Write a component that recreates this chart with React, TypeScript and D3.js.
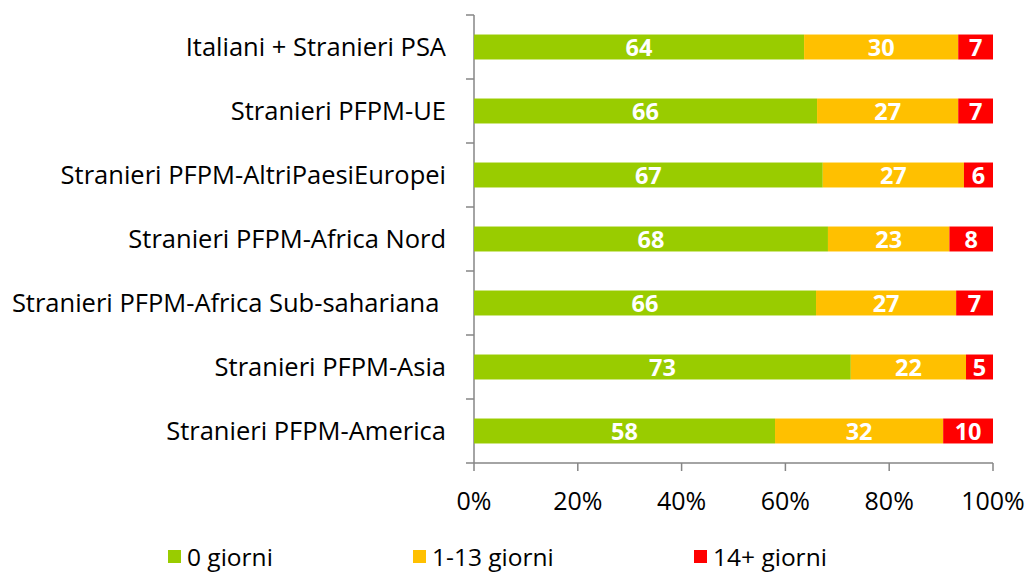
import React, { useEffect, useRef } from "react";
import * as d3 from "d3";

const categories = [
  "Italiani + Stranieri PSA",
  "Stranieri PFPM-UE",
  "Stranieri PFPM-AltriPaesiEuropei",
  "Stranieri PFPM-Africa Nord",
  "Stranieri PFPM-Africa Sub-sahariana ",
  "Stranieri PFPM-Asia",
  "Stranieri PFPM-America",
];
const seriesNames = ["0 giorni", "1-13 giorni", "14+ giorni"];
const seriesColors = ["#99cc00", "#ffc000", "#ff0000"];
const zeroDays = [63.6, 66.1, 67.2, 68.2, 65.9, 72.6, 58.0];
const oneToThirteen = [29.7, 27.2, 27.2, 23.4, 27.0, 22.2, 32.4];
const fourteenPlus = [6.7, 6.7, 5.6, 8.4, 7.1, 5.2, 9.6];
const tickValues = [0, 20, 40, 60, 80, 100];

const W = 1029;
const H = 574;
const FONT = "'Open Sans', Lato, sans-serif";

const App = () => {
  const ref = useRef<SVGSVGElement>(null);

  useEffect(() => {
    const svg = d3.select(ref.current);
    svg.selectAll("*").remove();

    const rows = categories.map((c, i) => ({
      cat: c,
      s0: zeroDays[i],
      s1: oneToThirteen[i],
      s2: fourteenPlus[i],
    }));
    const keys = ["s0", "s1", "s2"];
    const stacked = d3.stack<any>().keys(keys)(rows);

    const x = d3.scaleLinear().domain([0, 100]).range([474, 993]);
    const y = d3.scaleBand().domain(categories).range([15, 463]).paddingInner(0.61).paddingOuter(0.305);

    // axes lines
    const g = svg.append("g");
    g.append("line")
      .attr("x1", 474).attr("x2", 474)
      .attr("y1", 15).attr("y2", 463)
      .attr("stroke", "#868686").attr("stroke-width", 1.5);
    g.append("line")
      .attr("x1", 474).attr("x2", 993)
      .attr("y1", 463).attr("y2", 463)
      .attr("stroke", "#868686").attr("stroke-width", 1.5);

    const step = y.step();
    d3.range(categories.length + 1).forEach((i) => {
      const yy = 15 + i * step;
      g.append("line")
        .attr("x1", 466).attr("x2", 474)
        .attr("y1", yy).attr("y2", yy)
        .attr("stroke", "#868686").attr("stroke-width", 1.5);
    });
    tickValues.forEach((t) => {
      g.append("line")
        .attr("x1", x(t)).attr("x2", x(t))
        .attr("y1", 463).attr("y2", 471)
        .attr("stroke", "#868686").attr("stroke-width", 1.5);
      g.append("text")
        .attr("x", x(t)).attr("y", 510)
        .attr("text-anchor", "middle")
        .style("font-family", FONT).style("font-size", "25px")
        .attr("fill", "#000")
        .text(`${t}%`);
    });

    // category labels
    categories.forEach((c) => {
      g.append("text")
        .attr("x", 446)
        .attr("y", y(c)! + y.bandwidth() / 2 + 9)
        .attr("text-anchor", "end")
        .style("white-space", "pre")
        .style("font-family", FONT).style("font-size", "25.5px")
        .attr("fill", "#000")
        .text(c);
    });

    // bars
    stacked.forEach((layer, li) => {
      const lg = svg.append("g");
      lg.selectAll("rect")
        .data(layer)
        .enter()
        .append("rect")
        .attr("x", (d) => x(d[0]))
        .attr("y", (d) => y(d.data.cat)!)
        .attr("width", (d) => x(d[1]) - x(d[0]))
        .attr("height", y.bandwidth())
        .attr("fill", seriesColors[li]);
      lg.selectAll("text")
        .data(layer)
        .enter()
        .append("text")
        .attr("x", (d) => (x(d[0]) + x(d[1])) / 2)
        .attr("y", (d) => y(d.data.cat)! + y.bandwidth() / 2 + 8.5)
        .attr("text-anchor", "middle")
        .style("font-family", FONT).style("font-size", "23.5px").style("font-weight", "bold")
        .attr("fill", "#fff")
        .text((d) => Math.round(d[1] - d[0]));
    });

    // legend
    const legendX = [168, 413, 694];
    seriesNames.forEach((n, i) => {
      svg.append("rect")
        .attr("x", legendX[i]).attr("y", 550)
        .attr("width", 13).attr("height", 13)
        .attr("fill", seriesColors[i]);
      svg.append("text")
        .attr("x", legendX[i] + 19).attr("y", 566)
        .style("font-family", FONT).style("font-size", "24.5px")
        .attr("fill", "#000")
        .text(n);
    });
  }, []);

  return (
    <svg
      ref={ref}
      width={W}
      height={H}
      style={{ position: "absolute", left: 0, top: 0, background: "#fff" }}
    />
  );
};

export default App;
